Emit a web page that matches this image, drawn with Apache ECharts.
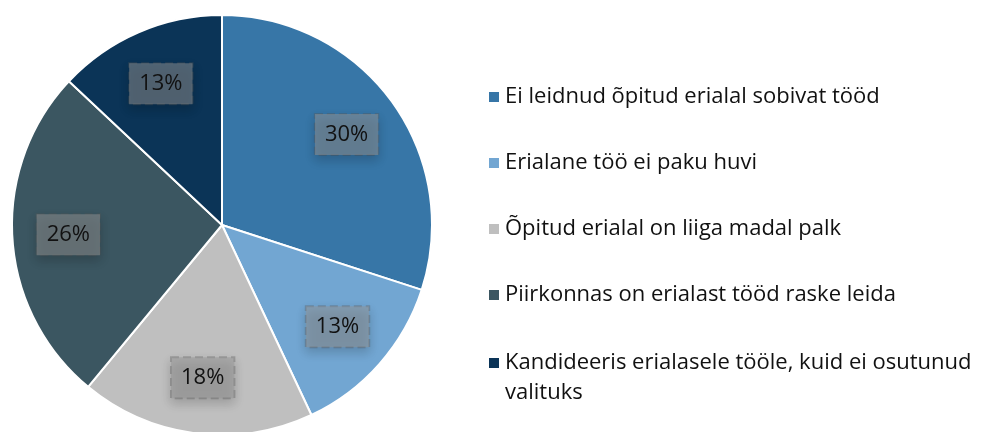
<!DOCTYPE html>
<html lang="et">
<head>
<meta charset="utf-8" />
<style>
  html, body { margin: 0; padding: 0; background: #fff; }
  #chart { width: 997px; height: 432px; }
</style>
</head>
<body>
<div id="chart"></div>
<script src="https://cdn.jsdelivr.net/npm/echarts@6/dist/echarts.min.js"></script>
<script>
// andmed
var categories = [
  'Ei leidnud õpitud erialal sobivat tööd',
  'Erialane töö ei paku huvi',
  'Õpitud erialal on liiga madal palk',
  'Piirkonnas on erialast tööd raske leida',
  'Kandideeris erialasele tööle, kuid ei osutunud valituks'
];
var values = [30, 13, 18, 26, 13];
var colors = ['#3776a7', '#72a6d2', '#bfbfbf', '#3b5661', '#0b3457'];

var chart = echarts.init(document.getElementById('chart'));

var pieData = categories.map(function (name, i) {
  return { name: name, value: values[i], itemStyle: { color: colors[i] } };
});

// pikk nimi murtakse kahele reale
function wrap(name) {
  var max = 47;
  if (name.length <= max) return name;
  var cut = name.lastIndexOf(' ', max);
  return name.slice(0, cut) + '\n' + name.slice(cut + 1);
}

var shortNames = categories.filter(function (n) { return wrap(n) === n; });
var longNames = categories.filter(function (n) { return wrap(n) !== n; });

var legendText = {
  fontSize: 22,
  color: '#111',
  fontFamily: 'Open Sans',
  lineHeight: 30
};

var legendBase = {
  orient: 'vertical',
  left: 482,
  itemWidth: 12,
  itemHeight: 12,
  itemGap: 36,
  icon: 'rect',
  textStyle: legendText
};

var option = {
  animation: false,
  textStyle: { fontFamily: 'Open Sans' },
  legend: [
    Object.assign({}, legendBase, { top: 77, data: shortNames }),
    // kaherealine kirje: tühi rida ees, et ruut jääks esimese rea kõrvale
    Object.assign({}, legendBase, {
      top: 313,
      data: longNames,
      formatter: function (name) { return '\n' + wrap(name); }
    })
  ],
  series: [
    {
      // tegelik sektordiagramm
      type: 'pie',
      center: [222, 225],
      radius: [0, 210],
      startAngle: 90,
      clockwise: true,
      label: { show: false },
      labelLine: { show: false },
      itemStyle: { borderColor: '#fff', borderWidth: 2 },
      emphasis: { disabled: true },
      data: pieData
    },
    {
      // läbipaistev kiht siltide jaoks (sildid ~0.72 raadiusel)
      type: 'pie',
      center: [222, 225],
      radius: [92, 210],
      startAngle: 90,
      clockwise: true,
      silent: true,
      legendHoverLink: false,
      itemStyle: { color: 'rgba(0,0,0,0)', borderWidth: 0 },
      label: {
        show: true,
        position: 'inside',
        formatter: '{c}%',
        fontSize: 22,
        lineHeight: 31,
        color: '#111',
        fontFamily: 'Open Sans',
        backgroundColor: 'rgba(150,150,150,0.5)',
        borderColor: 'rgba(90,90,90,0.35)',
        borderWidth: 1,
        borderType: 'dashed',
        padding: [5, 10, 5, 10],
        shadowColor: 'rgba(0,0,0,0.35)',
        shadowBlur: 10,
        shadowOffsetY: 5
      },
      labelLine: { show: false },
      emphasis: { disabled: true },
      data: categories.map(function (name, i) {
        return { name: name + ' ', value: values[i] };
      })
    }
  ]
};

chart.setOption(option);
</script>
</body>
</html>
